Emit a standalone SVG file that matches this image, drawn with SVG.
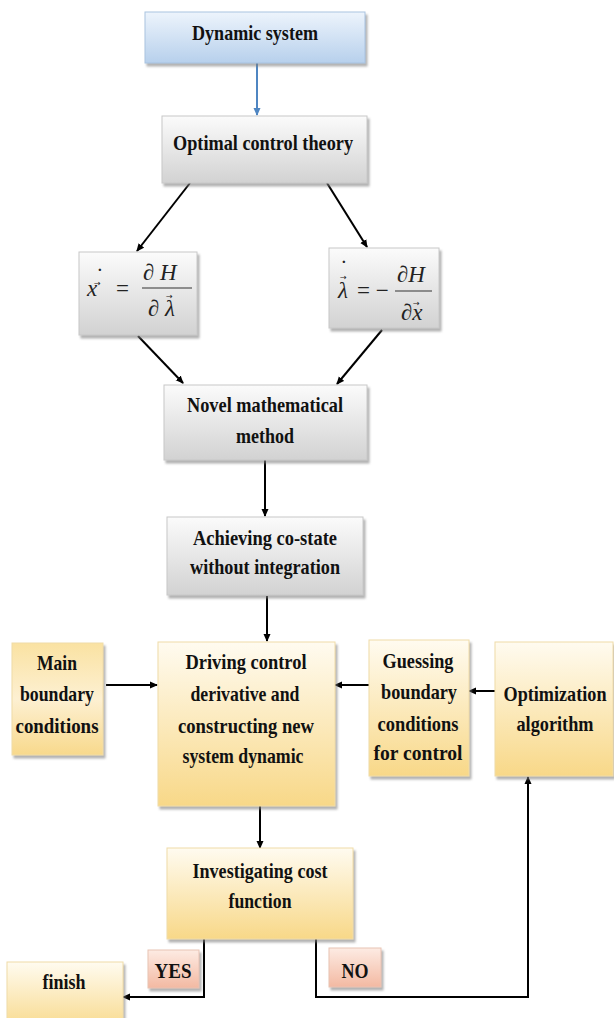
<svg xmlns="http://www.w3.org/2000/svg" width="614" height="1018" viewBox="0 0 614 1018">
<defs>
<linearGradient id="gBlue" x1="0" y1="0" x2="0" y2="1"><stop offset="0" stop-color="#edf4fc"/><stop offset="1" stop-color="#b7d0ec"/></linearGradient>
<linearGradient id="gGray" x1="0" y1="0" x2="0" y2="1"><stop offset="0" stop-color="#fbfbfb"/><stop offset="1" stop-color="#d2d2d2"/></linearGradient>
<linearGradient id="gYel" x1="0" y1="0" x2="0" y2="1"><stop offset="0" stop-color="#fffbf0"/><stop offset="1" stop-color="#f8d888"/></linearGradient>
<linearGradient id="gYel2" x1="0" y1="0" x2="0" y2="1"><stop offset="0" stop-color="#fae2a2"/><stop offset="0.5" stop-color="#fdf0d2"/><stop offset="1" stop-color="#f8d98c"/></linearGradient>
<linearGradient id="gPink" x1="0" y1="0" x2="0" y2="1"><stop offset="0" stop-color="#fdebe3"/><stop offset="1" stop-color="#f3b9a2"/></linearGradient>
<filter id="sh" x="-10%" y="-10%" width="125%" height="130%"><feDropShadow dx="2" dy="3" stdDeviation="1.2" flood-color="#7f7f7f" flood-opacity="0.6"/></filter>
<marker id="ah" markerWidth="8" markerHeight="8" refX="7" refY="4" orient="auto" markerUnits="userSpaceOnUse"><path d="M0,0.5 L8,4 L0,7.5 Z" fill="#000"/></marker>
<marker id="ahb" markerWidth="8" markerHeight="8" refX="7" refY="4" orient="auto" markerUnits="userSpaceOnUse"><path d="M0,0.5 L8,4 L0,7.5 Z" fill="#4f86c2"/></marker>
<style>
.box{filter:url(#sh);stroke-width:1}
.blue{fill:url(#gBlue);stroke:#a9c3e0}
.gray{fill:url(#gGray);stroke:#c8c8c8}
.yel{fill:url(#gYel);stroke:#f0dca8}
.yel2{fill:url(#gYel2);stroke:#f0dca8}
.pink{fill:url(#gPink);stroke:#e8c3b4}
.t{font-family:"Liberation Serif","Times New Roman",serif;font-weight:bold;font-size:22px;fill:#111;text-anchor:middle}
.m{font-family:"Liberation Serif","Times New Roman",serif;font-style:italic;font-size:23px;fill:#222}
.mu{font-family:"Liberation Serif","Times New Roman",serif;font-size:23px;fill:#222}
.acc{font-family:"DejaVu Sans",sans-serif;font-size:8px;fill:#222}
.ln{fill:none;stroke:#000;stroke-width:2}
</style>
</defs>
<rect width="614" height="1018" fill="#fff"/>

<g id="connectors">
<line x1="257" y1="63" x2="257" y2="115" stroke="#4f86c2" stroke-width="2" marker-end="url(#ahb)"/>
<line class="ln" x1="190" y1="183" x2="137" y2="251" marker-end="url(#ah)"/>
<line class="ln" x1="327" y1="183" x2="367" y2="247" marker-end="url(#ah)"/>
<line class="ln" x1="138" y1="336" x2="183" y2="383" marker-end="url(#ah)"/>
<line class="ln" x1="382" y1="330" x2="337" y2="384" marker-end="url(#ah)"/>
<line class="ln" x1="265" y1="460" x2="265" y2="516" marker-end="url(#ah)"/>
<line class="ln" x1="267" y1="596" x2="267" y2="641" marker-end="url(#ah)"/>
<line class="ln" x1="106" y1="685" x2="157" y2="685" marker-end="url(#ah)"/>
<line class="ln" x1="369" y1="685" x2="335" y2="685" marker-end="url(#ah)"/>
<line class="ln" x1="495" y1="691" x2="469" y2="691" marker-end="url(#ah)"/>
<line class="ln" x1="260" y1="806" x2="260" y2="848" marker-end="url(#ah)"/>
<polyline class="ln" points="204,939 204,997 123,997" marker-end="url(#ah)"/>
<polyline class="ln" points="316,939 316,997 528,997 528,777" marker-end="url(#ah)"/>
</g>

<g id="dynamic-system">
<rect class="box blue" x="145" y="12" width="220" height="51"/>
<text class="t" x="255" y="40" font-size="21" textLength="126" lengthAdjust="spacingAndGlyphs">Dynamic system</text>
</g>

<g id="optimal-control-theory">
<rect class="box gray" x="162" y="116" width="205" height="67"/>
<text class="t" x="263" y="150" font-size="23" textLength="180" lengthAdjust="spacingAndGlyphs">Optimal control theory</text>
</g>

<g id="state-equation">
<rect class="box gray" x="79" y="252" width="118" height="83"/>
<text class="m" x="87" y="296">x</text>
<text class="acc" x="94" y="286">→</text>
<text class="mu" x="96" y="284" font-size="14">˙</text>
<text class="mu" x="116" y="296">=</text>
<text class="m" x="143" y="280">∂ H</text>
<line x1="142" y1="288" x2="192" y2="288" stroke="#333" stroke-width="1.2"/>
<text class="m" x="148" y="316">∂ λ</text>
<text class="acc" x="166" y="299">→</text>
</g>

<g id="costate-equation">
<rect class="box gray" x="329" y="248" width="110" height="80"/>
<text class="m" x="338" y="298">λ</text>
<text class="acc" x="340" y="280">→</text>
<text class="mu" x="340" y="276" font-size="14">˙</text>
<text class="mu" x="357" y="298">= −</text>
<text class="m" x="397" y="282">∂H</text>
<line x1="395" y1="291" x2="432" y2="291" stroke="#333" stroke-width="1.2"/>
<text class="m" x="401" y="320">∂x</text>
<text class="acc" x="413" y="306">→</text>
</g>

<g id="novel-method">
<rect class="box gray" x="164" y="385" width="203" height="75"/>
<text class="t" x="265" y="412" textLength="156" lengthAdjust="spacingAndGlyphs">Novel mathematical</text>
<text class="t" x="265" y="443" textLength="58" lengthAdjust="spacingAndGlyphs">method</text>
</g>

<g id="achieving-costate">
<rect class="box gray" x="167" y="517" width="196" height="78"/>
<text class="t" x="265" y="545" textLength="144" lengthAdjust="spacingAndGlyphs">Achieving co-state</text>
<text class="t" x="265" y="574" textLength="150" lengthAdjust="spacingAndGlyphs">without integration</text>
</g>

<g id="main-boundary">
<rect class="box yel2" x="12" y="643" width="91" height="112"/>
<text class="t" x="57" y="670" textLength="40" lengthAdjust="spacingAndGlyphs">Main</text>
<text class="t" x="57" y="701" textLength="74" lengthAdjust="spacingAndGlyphs">boundary</text>
<text class="t" x="57" y="733" textLength="83" lengthAdjust="spacingAndGlyphs">conditions</text>
</g>

<g id="driving-control">
<rect class="box yel" x="158" y="642" width="177" height="164"/>
<text class="t" x="246" y="669" font-size="24" textLength="121" lengthAdjust="spacingAndGlyphs">Driving control</text>
<text class="t" x="245" y="701" font-size="24" textLength="109" lengthAdjust="spacingAndGlyphs">derivative and</text>
<text class="t" x="246" y="733" font-size="24" textLength="136" lengthAdjust="spacingAndGlyphs">constructing new</text>
<text class="t" x="243" y="763" font-size="24" textLength="121" lengthAdjust="spacingAndGlyphs">system dynamic</text>
</g>

<g id="guessing-boundary">
<rect class="box yel" x="369" y="640" width="100" height="136"/>
<text class="t" x="418" y="668" textLength="71" lengthAdjust="spacingAndGlyphs">Guessing</text>
<text class="t" x="419" y="699" textLength="76" lengthAdjust="spacingAndGlyphs">boundary</text>
<text class="t" x="418" y="731" textLength="81" lengthAdjust="spacingAndGlyphs">conditions</text>
<text class="t" x="418" y="760" textLength="89" lengthAdjust="spacingAndGlyphs">for  control</text>
</g>

<g id="optimization-algorithm">
<rect class="box yel" x="495" y="642" width="118" height="134"/>
<text class="t" x="555" y="701" textLength="103" lengthAdjust="spacingAndGlyphs">Optimization</text>
<text class="t" x="555" y="731" textLength="77" lengthAdjust="spacingAndGlyphs">algorithm</text>
</g>

<g id="investigating-cost">
<rect class="box yel" x="167" y="848" width="186" height="91"/>
<text class="t" x="260" y="878" textLength="135" lengthAdjust="spacingAndGlyphs">Investigating cost</text>
<text class="t" x="260" y="908" textLength="63" lengthAdjust="spacingAndGlyphs">function</text>
</g>

<g id="yes-label">
<rect class="box pink" x="148" y="950" width="51" height="38"/>
<text class="t" x="173" y="978" textLength="37" lengthAdjust="spacingAndGlyphs">YES</text>
</g>

<g id="no-label">
<rect class="box pink" x="329" y="948" width="52" height="39"/>
<text class="t" x="355" y="978" textLength="27" lengthAdjust="spacingAndGlyphs">NO</text>
</g>

<g id="finish">
<rect class="box yel" x="7" y="962" width="116" height="70"/>
<text class="t" x="64" y="989" textLength="43" lengthAdjust="spacingAndGlyphs">finish</text>
</g>
</svg>
